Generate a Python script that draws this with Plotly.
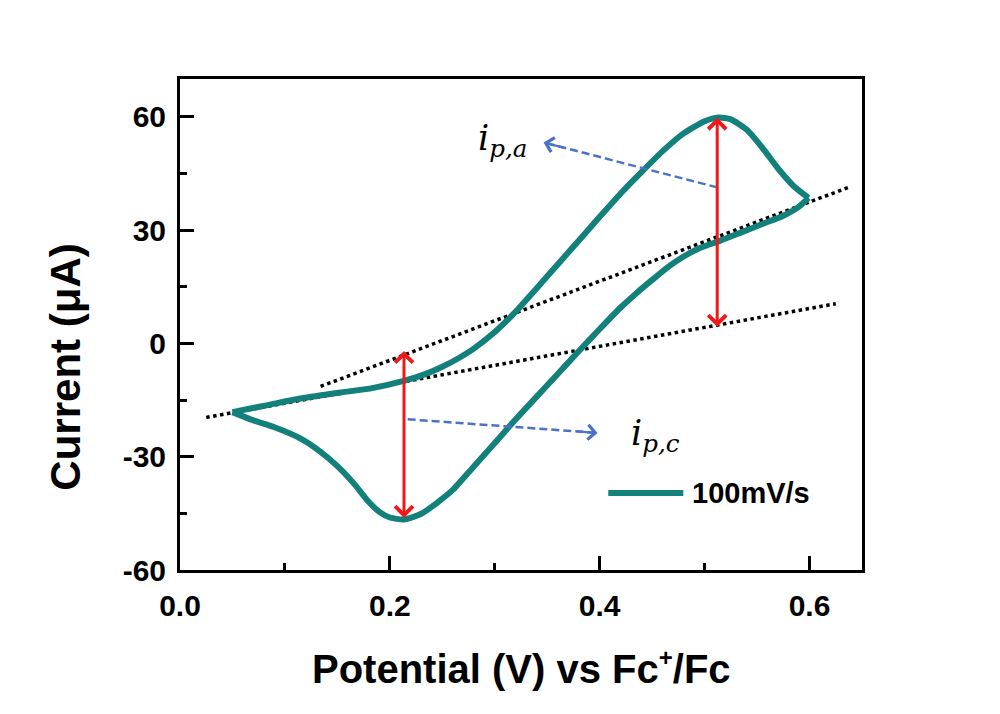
import plotly.graph_objects as go

# ---- data ----
fwd_E = [0.050, 0.077, 0.115, 0.153, 0.182, 0.215, 0.235, 0.250, 0.265, 0.280, 0.300, 0.320,
         0.340, 0.360, 0.380, 0.400, 0.420, 0.440, 0.460, 0.480, 0.500, 0.513, 0.525, 0.540,
         0.555, 0.570, 0.585, 0.599]
fwd_I = [-18.2, -16.7, -14.6, -13.0, -11.9, -9.8, -8.0, -6.2, -4.0, -1.4, 3.0, 8.4,
         14.6, 20.9, 27.2, 33.5, 39.7, 45.4, 50.9, 55.6, 58.8, 59.8, 59.3, 56.6,
         51.8, 46.3, 41.6, 38.5]
rev_E = [0.599, 0.590, 0.575, 0.555, 0.535, 0.515, 0.495, 0.480, 0.465, 0.450, 0.435, 0.420,
         0.400, 0.380, 0.360, 0.340, 0.320, 0.300, 0.280, 0.260, 0.245, 0.230, 0.2135, 0.200,
         0.190, 0.180, 0.166, 0.150, 0.134, 0.115, 0.090, 0.070, 0.050]
rev_I = [38.5, 36.2, 33.8, 31.6, 29.4, 27.2, 25.2, 23.0, 20.2, 16.8, 13.3, 9.5,
         3.8, -2.1, -8.1, -14.1, -20.1, -26.4, -32.6, -38.8, -42.2, -45.1, -46.6, -46.1,
         -44.6, -42.0, -37.2, -32.5, -28.7, -25.2, -22.2, -20.4, -18.2]

base_a_E = [0.134, 0.637]
base_a_I = [-11.4, 41.3]
base_c_E = [0.025, 0.625]
base_c_I = [-19.6, 10.5]

peak_arrow_E = [0.512, 0.2135]
peak_arrow_top = [59.8, -2.0]
peak_arrow_bot = [4.0, -46.6]

ipa_from = (0.512, 41.3)
ipa_to = (0.3465, 53.2)
ipc_from = (0.217, -20.1)
ipc_to = (0.398, -23.7)
ipa_label = (0.307, 53.6)
ipc_label = (0.453, -24.4)

x_ticks = [0.0, 0.2, 0.4, 0.6]
x_ticktext = ["0.0", "0.2", "0.4", "0.6"]
y_ticks = [60, 30, 0, -30, -60]
y_ticktext = ["60", "30", "0", "-30", "-60"]

legend_label = "100mV/s"

TEAL = "#12807b"
RED = "#ee1a1a"
BLUE = "#4a72c8"
FONT = "Arial, Liberation Sans, sans-serif"

fig = go.Figure()
fig.add_trace(go.Scatter(x=base_a_E, y=base_a_I, mode="lines",
                         line=dict(color="black", width=3.5, dash="dot"), showlegend=False))
fig.add_trace(go.Scatter(x=base_c_E, y=base_c_I, mode="lines",
                         line=dict(color="black", width=3.5, dash="dot"), showlegend=False))
fig.add_trace(go.Scatter(x=fwd_E, y=fwd_I, mode="lines", name=legend_label,
                         line=dict(color=TEAL, width=6, shape="spline", smoothing=0.6), showlegend=False))
fig.add_trace(go.Scatter(x=rev_E, y=rev_I, mode="lines", name=legend_label,
                         line=dict(color=TEAL, width=6, shape="spline", smoothing=0.6), showlegend=False))

# dashed blue shafts with open arrow heads
for (fx, fy), (tx, ty) in [(ipa_from, ipa_to), (ipc_from, ipc_to)]:
    fig.add_trace(go.Scatter(x=[fx, tx], y=[fy, ty], mode="lines",
                             line=dict(color=BLUE, width=2.5, dash="8px,4px"), showlegend=False))
    fig.add_annotation(x=tx, y=ty, ax=tx + (fx - tx) * 0.12, ay=ty + (fy - ty) * 0.12,
                       xref="x", yref="y", axref="x", ayref="y", text="", showarrow=True,
                       arrowhead=4, arrowsize=1.3, arrowwidth=2.2, arrowcolor=BLUE)

# red double arrows
for e, top, bot in zip(peak_arrow_E, peak_arrow_top, peak_arrow_bot):
    fig.add_annotation(x=e, y=top, ax=e, ay=bot, xref="x", yref="y", axref="x", ayref="y",
                       text="", showarrow=True, arrowside="end+start",
                       arrowhead=4, startarrowhead=4, arrowsize=1.15, startarrowsize=1.15,
                       arrowwidth=3, arrowcolor=RED)

# labels
fig.add_annotation(x=ipa_label[0], y=ipa_label[1], xref="x", yref="y", showarrow=False,
                   text="<i>i</i><sub><i>p,a</i></sub>",
                   font=dict(family="DejaVu Serif, serif", size=35, color="black"))
fig.add_annotation(x=ipc_label[0], y=ipc_label[1], xref="x", yref="y", showarrow=False,
                   text="<i>i</i><sub><i>p,c</i></sub>",
                   font=dict(family="DejaVu Serif, serif", size=35, color="black"))

# manual legend
fig.add_shape(type="line", xref="paper", yref="paper", x0=0.628, x1=0.738, y0=0.157, y1=0.157,
              line=dict(color=TEAL, width=6))
fig.add_annotation(xref="paper", yref="paper", x=0.748, y=0.157, xanchor="left", yanchor="middle",
                   showarrow=False, text="<b>%s</b>" % legend_label,
                   font=dict(family=FONT, size=29, color="black"))

# axis titles
fig.add_annotation(xref="paper", yref="paper", x=0.5, y=-0.198, xanchor="center", yanchor="middle",
                   showarrow=False,
                   text="<b>Potential (V) vs Fc<sup><span style='font-size:24px'>+</span></sup>/Fc</b>",
                   font=dict(family=FONT, size=40, color="black"))
fig.add_annotation(xref="paper", yref="paper", x=-0.168, y=0.413, xanchor="center", yanchor="middle",
                   showarrow=False, text="<b>Current (\u03bcA)</b>", textangle=-90,
                   font=dict(family=FONT, size=42, color="black"))

axis_common = dict(showline=True, linecolor="black", linewidth=3, mirror=True,
                   ticks="inside", ticklen=14, tickwidth=3, tickcolor="black",
                   showgrid=False, zeroline=False,
                   tickfont=dict(family=FONT, size=30, color="black", weight="bold"))

fig.update_xaxes(range=[0, 0.65], tickvals=x_ticks, ticktext=x_ticktext, ticklabelstandoff=7,
                 minor=dict(ticks="inside", ticklen=7, tickwidth=3, tickcolor="black", dtick=0.1, tick0=0),
                 **axis_common)
fig.update_yaxes(range=[-60, 70], tickvals=y_ticks, ticktext=y_ticktext, ticklabelstandoff=5,
                 minor=dict(ticks="inside", ticklen=7, tickwidth=3, tickcolor="black", dtick=15, tick0=0),
                 **axis_common)

fig.update_layout(width=1000, height=714, margin=dict(l=180, r=138, t=79, b=144),
                  plot_bgcolor="white", paper_bgcolor="white", showlegend=False)

fig.write_html("out.html")
